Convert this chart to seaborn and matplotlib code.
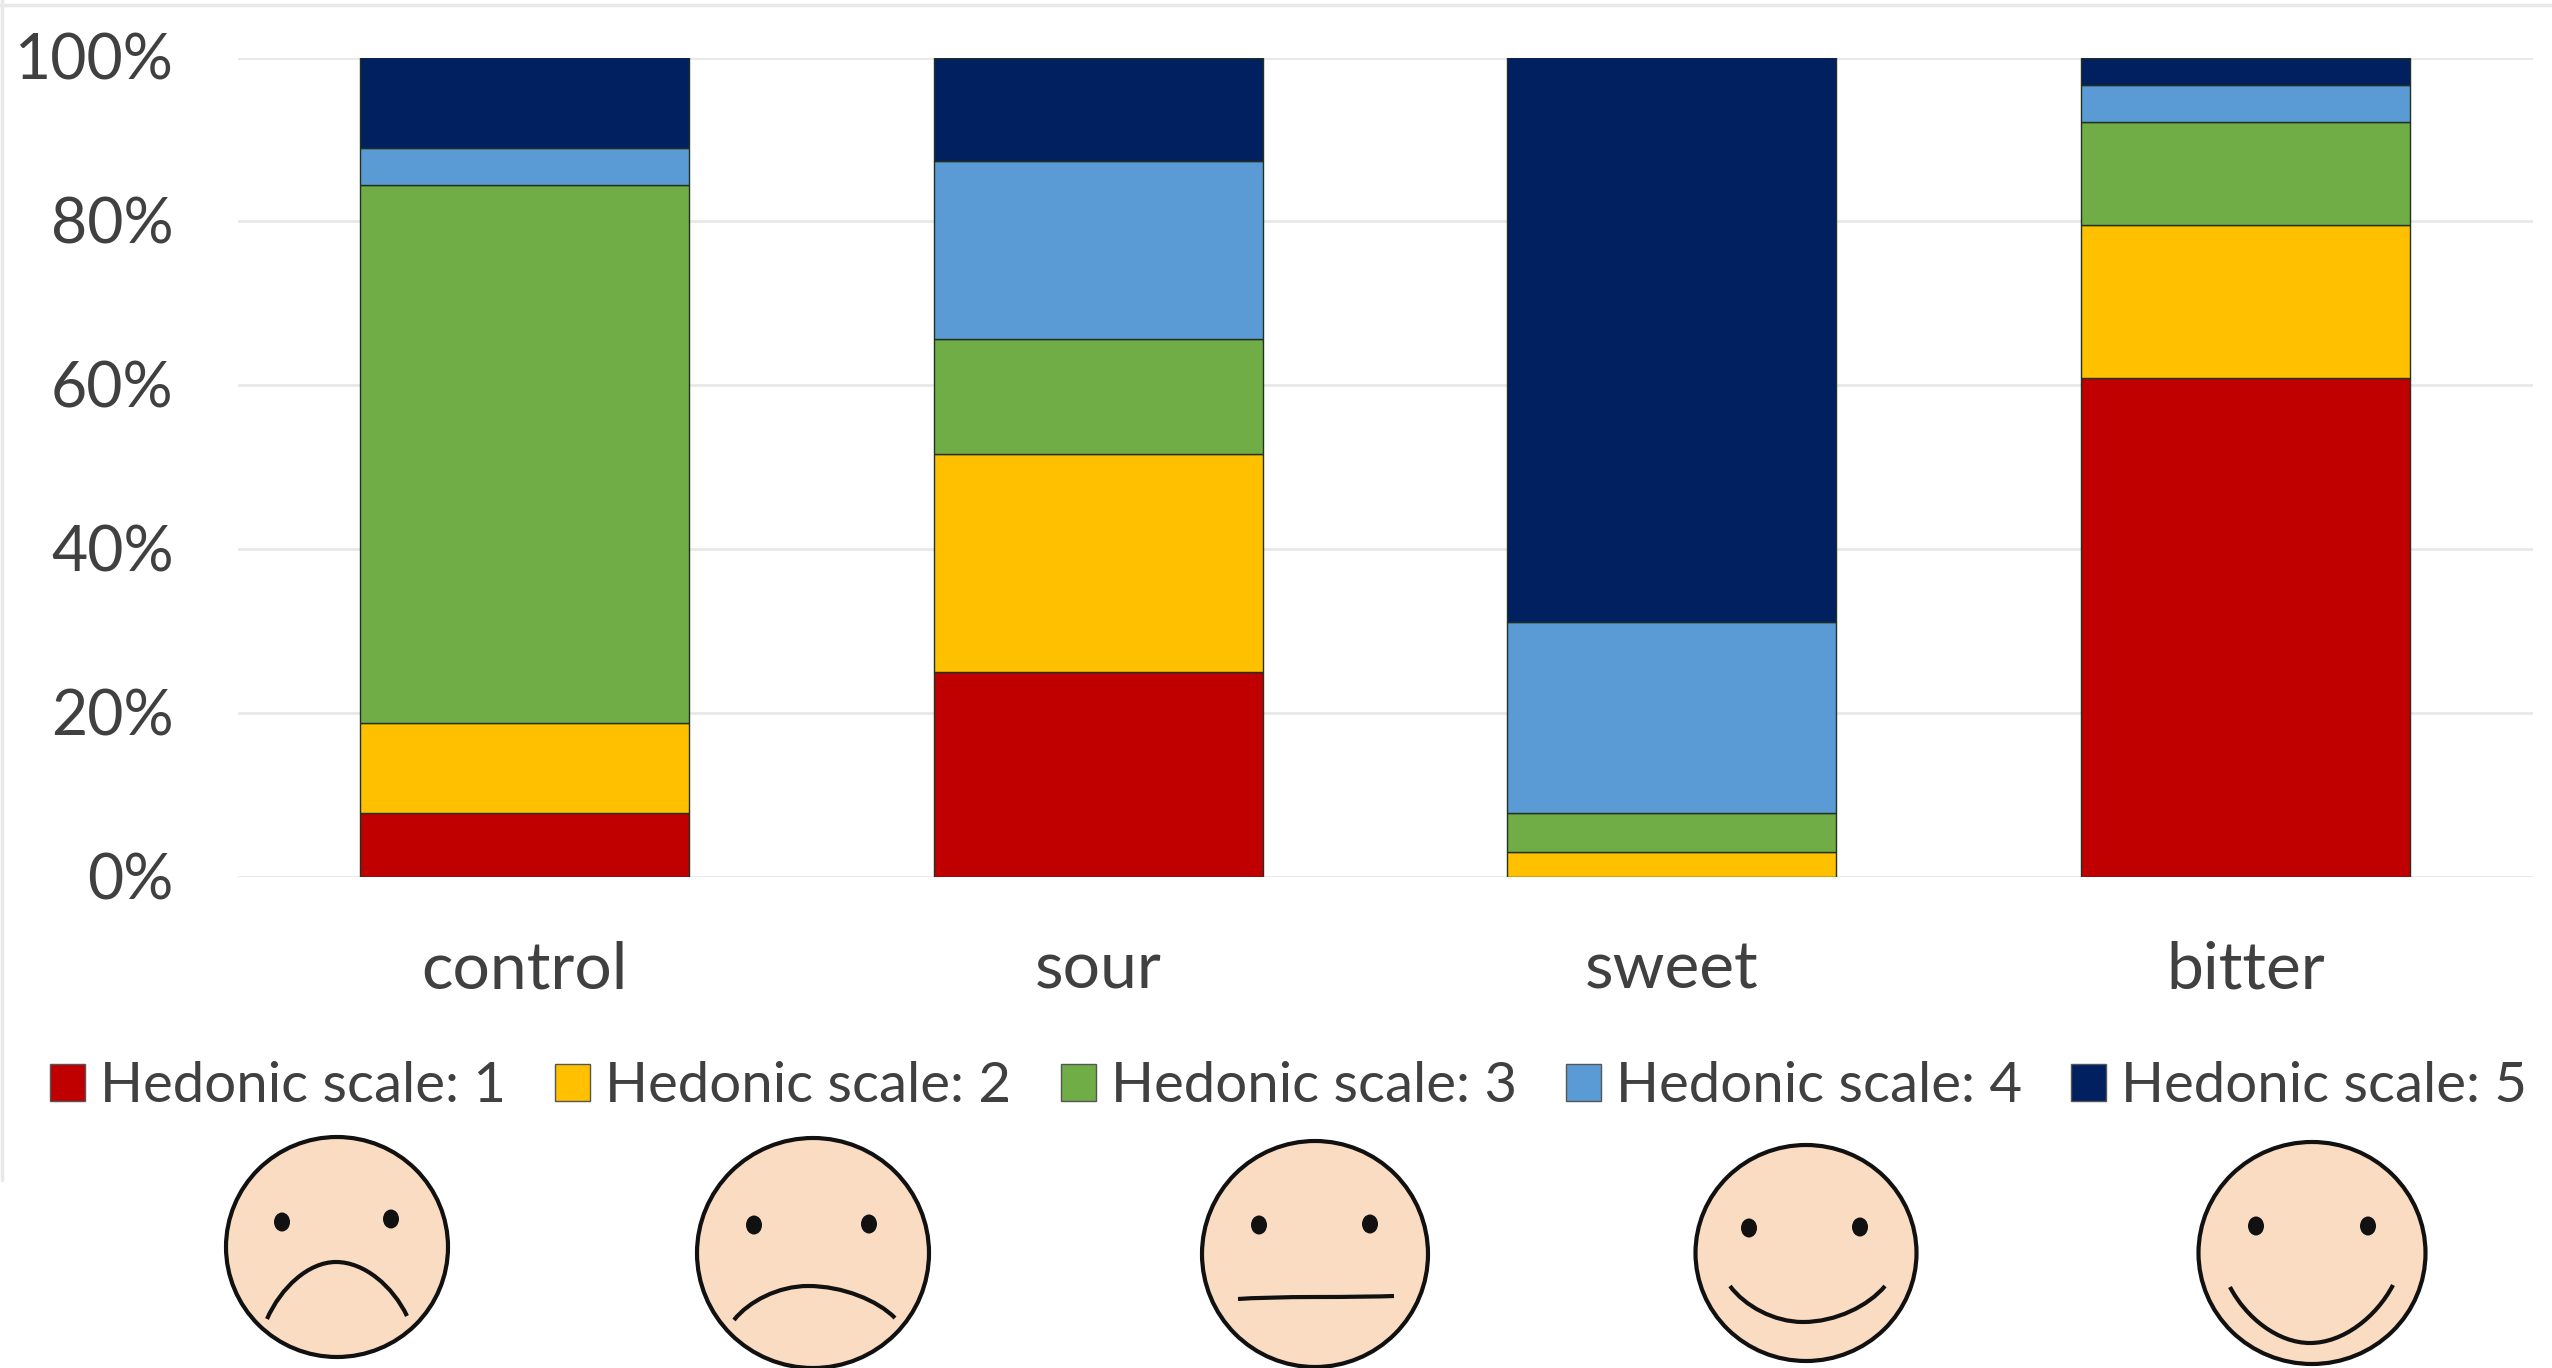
import matplotlib
matplotlib.use('Agg')
import matplotlib.pyplot as plt
import pandas as pd
import seaborn as sns
from matplotlib.lines import Line2D
from matplotlib.patches import Ellipse, PathPatch, Patch
from matplotlib.path import Path
from matplotlib.transforms import ScaledTranslation

# datos (% por nivel de la escala)
tastes = ['control', 'sour', 'sweet', 'bitter']
scale_1 = [7.8, 25.0, 0.0, 60.9]
scale_2 = [11.0, 26.6, 3.0, 18.7]
scale_3 = [65.6, 14.1, 4.8, 12.5]
scale_4 = [4.6, 21.7, 23.3, 4.6]
scale_5 = [11.0, 12.6, 68.9, 3.3]
y_ticks = [0, 20, 40, 60, 80, 100]
scale_names = ['Hedonic scale: 1', 'Hedonic scale: 2', 'Hedonic scale: 3',
               'Hedonic scale: 4', 'Hedonic scale: 5']
scale_colors = ['#C00000', '#FFC000', '#70AD47', '#5B9BD5', '#002060']

W, H = 2552, 1368
TEXT = '#404040'
GRID = '#e8e8e8'
SKIN = '#FADCC3'

sns.set_theme(style='white')
plt.rcParams['font.family'] = ['Lato', 'DejaVu Sans']

filas = []
for nombre, serie in zip(scale_names, [scale_1, scale_2, scale_3, scale_4, scale_5]):
    for sabor, valor in zip(tastes, serie):
        filas.append({'taste': sabor, 'scale': nombre, 'pct': valor})
df = pd.DataFrame(filas)

fig = plt.figure(figsize=(W / 100, H / 100), dpi=100, facecolor='white')
ax = fig.add_axes([237.5 / W, 1 - 877 / H, (2532.5 - 237.5) / W, (877 - 57.5) / H])

# histplot apila el primer hue arriba, por eso el orden invertido
sns.histplot(data=df, x='taste', hue='scale', weights='pct', multiple='stack',
             hue_order=scale_names[::-1], palette=dict(zip(scale_names, scale_colors)),
             shrink=0.573, alpha=1, edgecolor='#22301f', linewidth=1.0,
             legend=False, ax=ax)

ax.set_xlim(-0.5, 3.5)
ax.set_ylim(0, 100)
ax.set_yticks(y_ticks)
ax.set_yticklabels([f'{t}%' for t in y_ticks])
ax.set_xlabel('')
ax.set_ylabel('')
ax.set_axisbelow(True)
ax.yaxis.grid(True, color=GRID, linewidth=2.0)
ax.xaxis.grid(False)
sns.despine(ax=ax, left=True, bottom=True, top=True, right=True)
ax.tick_params(axis='y', length=0, pad=46, labelsize=45, labelcolor=TEXT)
ax.tick_params(axis='x', length=0, pad=46, labelsize=47.5, labelcolor=TEXT)
ax.grid(True, axis='y')

# las etiquetas del eje y van un poco mas altas que la linea
subir = ScaledTranslation(0, 1 / 72, fig.dpi_scale_trans)
for etiqueta in ax.get_yticklabels():
    etiqueta.set_transform(etiqueta.get_transform() + subir)

handles = [Patch(facecolor=c, edgecolor='#555555', linewidth=1.0) for c in scale_colors]
fig.legend(handles, scale_names, ncol=5, loc='center left',
           bbox_to_anchor=(50 / W, 1 - 1087 / H), frameon=False, fontsize=40.6,
           labelcolor=TEXT, borderpad=0, borderaxespad=0, handlelength=0.62,
           handleheight=0.62, handletextpad=0.27, columnspacing=0.87)

# marco gris claro de la imagen original
fig.add_artist(Line2D([0, 1], [1 - 5 / H, 1 - 5 / H], color=GRID, linewidth=2.5))
fig.add_artist(Line2D([2 / W, 2 / W], [1 - 1180 / H, 1], color=GRID, linewidth=2.5))

# caritas de la escala, en pixeles de la imagen
lienzo = fig.add_axes([0, 0, 1, 1], facecolor='none')
lienzo.set_xlim(0, W)
lienzo.set_ylim(H, 0)
lienzo.axis('off')

caras = [
    ((337, 1247), 222, 220, [(282, 1222), (391, 1219)], [(267, 1319), (336, 1262), (407, 1316)]),
    ((813, 1253), 232, 230, [(754, 1225), (869, 1224)], [(734, 1320), (808, 1286), (895, 1318)]),
    ((1315, 1254), 226, 226, [(1259, 1225), (1370, 1224)], [(1238, 1299), (1316, 1297), (1394, 1296)]),
    ((1806, 1253), 221, 216, [(1749, 1228), (1860, 1227)], [(1730, 1286), (1803, 1322), (1885, 1286)]),
    ((2312, 1253), 227, 222, [(2256, 1226), (2368, 1226)], [(2230, 1287), (2310, 1343), (2393, 1285)]),
]


def tramo(a, b):
    # un cuarto de elipse algo abierto, de la punta de la boca hasta su centro
    return [(a[0] + 0.2 * (b[0] - a[0]), a[1] + 0.55 * (b[1] - a[1])),
            (b[0] - 0.4 * (b[0] - a[0]), b[1]), b]


for centro, ancho, alto, ojos, boca in caras:
    lienzo.add_patch(Ellipse(centro, ancho, alto, facecolor=SKIN, edgecolor='#111111', linewidth=3.0))
    for ojo in ojos:
        lienzo.add_patch(Ellipse(ojo, 16, 19, facecolor='#111111', edgecolor='none'))
    p0, medio, p2 = boca
    vuelta = tramo(p2, medio)
    vertices = [p0] + tramo(p0, medio) + [vuelta[1], vuelta[0], p2]
    codigos = [Path.MOVETO] + [Path.CURVE4] * 6
    lienzo.add_patch(PathPatch(Path(vertices, codigos), facecolor='none',
                               edgecolor='#111111', linewidth=3.0))

fig.savefig('out.png', dpi=100)
plt.close(fig)
